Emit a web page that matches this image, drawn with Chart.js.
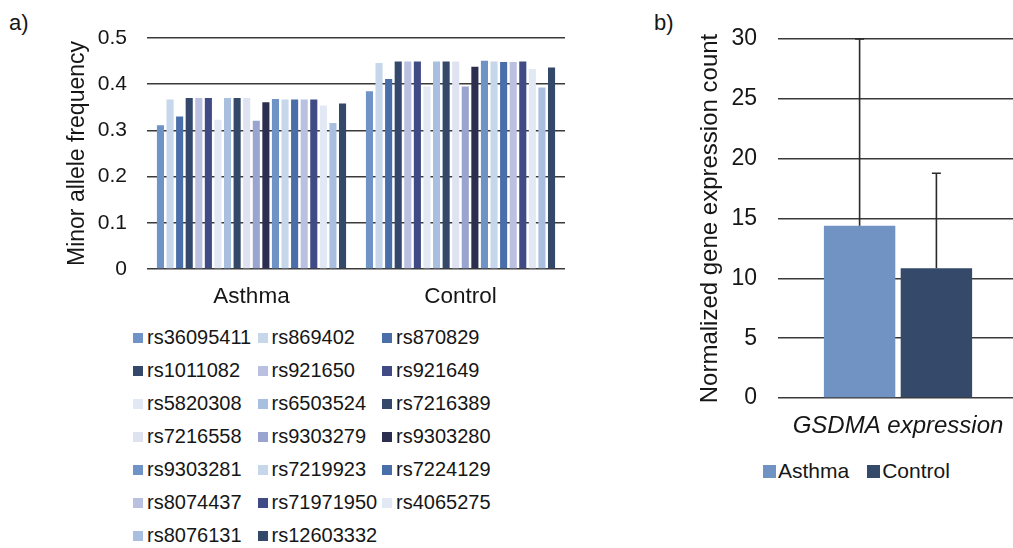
<!DOCTYPE html>
<html>
<head>
<meta charset="utf-8">
<script src="https://cdn.jsdelivr.net/npm/chart.js@4.4.1/dist/chart.umd.min.js"></script>
<style>
  html, body { margin: 0; padding: 0; background: #fff; }
  body { width: 1013px; height: 548px; position: relative; overflow: hidden; font-family: "Liberation Sans", Arial, sans-serif; color: #161616; }
  .panel-label { position: absolute; font-size: 22px; line-height: 22px; }
  #wrapA { position: absolute; left: 0; top: 0; width: 600px; height: 320px; }
  #wrapB { position: absolute; left: 640px; top: 0; width: 378px; height: 440px; }
  #legendA { position: absolute; left: 133px; top: 321px; display: grid; grid-template-columns: 124.5px 124.5px 124.5px; grid-auto-rows: 33px; font-size: 20px; }
  .li { display: flex; align-items: center; white-space: nowrap; }
  .li .bx { width: 10px; height: 10px; margin-right: 4px; flex: none; }
  #legendB { position: absolute; left: 763px; top: 458px; height: 26px; display: flex; align-items: center; font-size: 21px; }
  #legendB .li { margin-right: 18px; }
  #legendB .bx { width: 13px; height: 13px; margin-right: 2px; }
</style>
</head>
<body>
<div class="panel-label" style="left:9px; top:12px;">a)</div>
<div class="panel-label" style="left:654px; top:12px;">b)</div>
<div id="wrapA"><canvas id="chartA"></canvas></div>
<div id="legendA"></div>
<div id="wrapB"><canvas id="chartB"></canvas></div>
<div id="legendB"></div>
<script>
// ---------- Panel a) data ----------
const groupsA = ["Asthma", "Control"];
const snps = ["rs36095411","rs869402","rs870829","rs1011082","rs921650","rs921649","rs5820308","rs6503524","rs7216389","rs7216558","rs9303279","rs9303280","rs9303281","rs7219923","rs7224129","rs8074437","rs71971950","rs4065275","rs8076131","rs12603332"];
const mafAsthma = [0.311,0.367,0.330,0.370,0.370,0.370,0.323,0.370,0.370,0.370,0.321,0.361,0.368,0.367,0.367,0.367,0.367,0.354,0.316,0.358];
const mafControl = [0.385,0.446,0.411,0.449,0.449,0.449,0.395,0.449,0.449,0.449,0.395,0.438,0.451,0.449,0.448,0.448,0.449,0.433,0.393,0.436];
const snpColors = ["#6f93c6","#c6d7eb","#4a6ea9","#33486a","#bac0df","#404b86","#e2e8f4","#a8bfdf","#34496a","#dfe2f1","#9aa4d1","#2b2e4f","#6f93c6","#c6d7eb","#4a6ea9","#bac0df","#404b86","#e2e8f4","#a8bfdf","#34496a"];
const ticksA = [0, 0.1, 0.2, 0.3, 0.4, 0.5];

// ---------- Panel b) data ----------
const groupsB = ["Asthma", "Control"];
const exprCategory = ["GSDMA expression"];
const exprMean = [14.4, 10.85];
const exprErrUp = [15.6, 7.93];
const exprColors = ["#7093c4", "#35496a"];
const ticksB = [0, 5, 10, 15, 20, 25, 30];

const gridColor = "#3a3a3a";
const textColor = "#161616";
const FONT = "'Liberation Sans', Arial, sans-serif";

// ---------- Chart A ----------
const dsA = snps.map((name, i) => ({
  label: name,
  data: [mafAsthma[i], mafControl[i]],
  backgroundColor: snpColors[i],
  borderWidth: 0,
  categoryPercentage: 0.917,
  barPercentage: 0.74
}));

new Chart(document.getElementById("chartA"), {
  type: "bar",
  data: { labels: groupsA, datasets: dsA },
  options: {
    responsive: true,
    maintainAspectRatio: false,
    animation: false,
    devicePixelRatio: 1,
    layout: { padding: { top: 38, right: 35, bottom: 0, left: 0 } },
    plugins: { legend: { display: false }, tooltip: { enabled: false } },
    scales: {
      x: {
        grid: { display: false, drawTicks: false },
        border: { display: false },
        ticks: { color: textColor, font: { family: FONT, size: 22.5 }, padding: 14 },
        afterFit: (s) => { s.height = 51; }
      },
      y: {
        min: 0, max: 0.5,
        afterBuildTicks: (s) => { s.ticks = ticksA.map(v => ({ value: v })); },
        grid: { color: gridColor, lineWidth: 1.5, drawTicks: false },
        border: { display: false },
        ticks: { color: textColor, font: { family: FONT, size: 21 }, padding: 20,
                 callback: (v) => v === 0 ? "0" : v.toFixed(1) },
        title: { display: true, text: "Minor allele frequency", color: textColor,
                 font: { family: FONT, size: 23 }, padding: { top: 64, bottom: 0 } },
        afterFit: (s) => { s.width = 147; }
      }
    }
  }
});

// ---------- Chart B ----------
const errorBarPlugin = {
  id: "errorBars",
  afterDatasetsDraw(chart) {
    const ctx = chart.ctx;
    const y = chart.scales.y;
    ctx.save();
    ctx.strokeStyle = "#2a2a2a";
    ctx.lineWidth = 1.6;
    chart.data.datasets.forEach((ds, di) => {
      const meta = chart.getDatasetMeta(di);
      meta.data.forEach((bar, i) => {
        const top = ds.data[i] + ds.errUp[i];
        const x = bar.x;
        const yTop = y.getPixelForValue(top);
        const yBase = y.getPixelForValue(ds.data[i]);
        ctx.beginPath();
        ctx.moveTo(x, yBase);
        ctx.lineTo(x, yTop);
        ctx.moveTo(x - 4.5, yTop);
        ctx.lineTo(x + 4.5, yTop);
        ctx.stroke();
      });
    });
    ctx.restore();
  }
};

const dsB = groupsB.map((g, i) => ({
  label: g,
  data: [exprMean[i]],
  errUp: [exprErrUp[i]],
  backgroundColor: exprColors[i],
  borderWidth: 0,
  categoryPercentage: 0.64,
  barPercentage: 0.93
}));

new Chart(document.getElementById("chartB"), {
  type: "bar",
  data: { labels: exprCategory, datasets: dsB },
  plugins: [errorBarPlugin],
  options: {
    responsive: true,
    maintainAspectRatio: false,
    animation: false,
    devicePixelRatio: 1,
    layout: { padding: { top: 39, right: 0, bottom: 0, left: 0 } },
    plugins: { legend: { display: false }, tooltip: { enabled: false } },
    scales: {
      x: {
        grid: { display: false, drawTicks: false },
        border: { display: false },
        ticks: { color: textColor, font: { family: FONT, size: 24, style: "italic" }, padding: 14 },
        afterFit: (s) => { s.height = 42; }
      },
      y: {
        min: 0, max: 30,
        afterBuildTicks: (s) => { s.ticks = ticksB.map(v => ({ value: v })); },
        grid: { color: gridColor, lineWidth: 1.5, drawTicks: false },
        border: { display: false },
        ticks: { color: textColor, font: { family: FONT, size: 23 }, padding: 21 },
        title: { display: true, text: "Normalized gene expression count", color: textColor,
                 font: { family: FONT, size: 24 }, padding: { top: 56, bottom: 0 } },
        afterFit: (s) => { s.width = 138; }
      }
    }
  }
});

// ---------- HTML legends built from the arrays ----------
const legA = document.getElementById("legendA");
snps.forEach((name, i) => {
  const d = document.createElement("div");
  d.className = "li";
  d.innerHTML = '<span class="bx" style="background:' + snpColors[i] + '"></span><span>' + name + '</span>';
  legA.appendChild(d);
});
const legB = document.getElementById("legendB");
groupsB.forEach((g, i) => {
  const d = document.createElement("div");
  d.className = "li";
  d.innerHTML = '<span class="bx" style="background:' + exprColors[i] + '"></span><span>' + g + '</span>';
  legB.appendChild(d);
});
</script>
</body>
</html>
